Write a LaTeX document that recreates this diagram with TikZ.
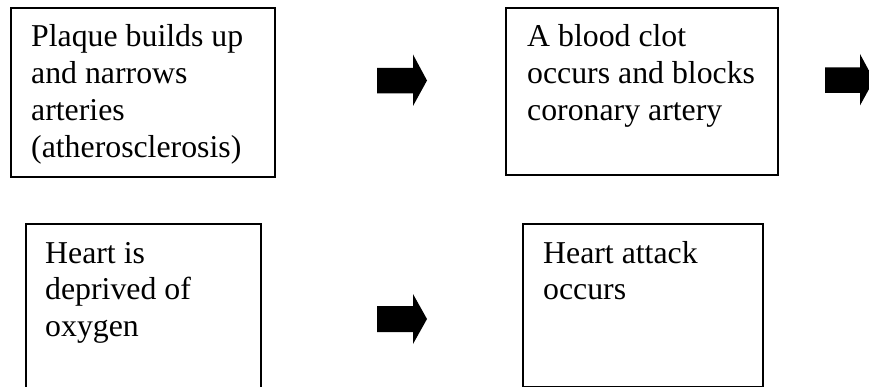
\documentclass[tikz,border=0pt]{standalone}
\usepackage{fontspec}
\setmainfont{Liberation Serif}
\newcommand{\mlines}[1]{\vtop{\baselineskip=36.7pt\lineskiplimit=-100pt #1}}
\begin{document}
\begin{tikzpicture}[x=1pt,y=-1pt,
  box/.style={draw=black,line width=1.6pt,fill=white,inner sep=0pt,anchor=north west},
  txt/.style={inner sep=0pt,anchor=base west,font=\fontsize{31.8pt}{36.7pt}\selectfont},
  blockarrow/.style={fill=black}]
\useasboundingbox (0,0) rectangle (869,387);
\clip (0,0) rectangle (869,387);
\fill[white] (0,0) rectangle (869,387);
% boxes
\node[box,minimum width=264pt,minimum height=169pt] (b1) at (10,7) {};
\node[box,minimum width=272pt,minimum height=167pt] (b2) at (505,7) {};
\node[box,minimum width=235pt,minimum height=180pt] (b3) at (25,223) {};
\node[box,minimum width=240pt,minimum height=163pt] (b4) at (522,223) {};
% texts
\node[txt] (t1) at (31,47) {\mlines{\hbox{Plaque builds up}\hbox{and narrows}\hbox{arteries}\hbox{(atherosclerosis)}}};
\node[txt] (t2) at (527,47) {\mlines{\hbox{A blood clot}\hbox{occurs and blocks}\hbox{coronary artery}}};
\node[txt] (t3) at (45,263) {\mlines{\hbox{Heart is}\hbox{deprived of}\hbox{oxygen}}};
\node[txt] (t4) at (543,263) {\mlines{\hbox{Heart attack}\hbox{occurs}}};
% block arrows
\coordinate (a1) at (377,80.5);
\coordinate (a2) at (825,80);
\coordinate (a3) at (377,319);
\fill[blockarrow] (a1) ++(0,-12.5) -- ++(36,0) -- ++(0,-13.5) -- ++(14,26) -- ++(-14,25.5) -- ++(0,-12.5) -- ++(-36,0) -- cycle;
\fill[blockarrow] (a2) ++(0,-12.5) -- ++(35,0) -- ++(0,-13.5) -- ++(14,26) -- ++(-14,25.5) -- ++(0,-12.5) -- ++(-35,0) -- cycle;
\fill[blockarrow] (a3) ++(0,-13) -- ++(36,0) -- ++(0,-12) -- ++(14,25) -- ++(-14,25) -- ++(0,-12) -- ++(-36,0) -- cycle;
\end{tikzpicture}
\end{document}
